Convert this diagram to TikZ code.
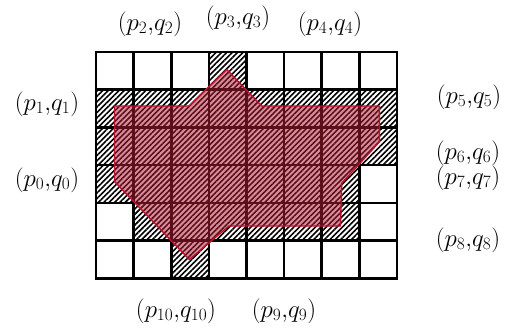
\documentclass[tikz,border=0pt]{standalone}
\usetikzlibrary{patterns.meta}
\definecolor{polyfill}{RGB}{180,30,55}
\definecolor{polyedge}{RGB}{190,15,45}
\DeclareMathSizes{25}{25}{19}{15}
\tikzset{
  hatchcell/.style={pattern={Lines[angle=45,distance=3.8pt,line width=1.6pt]},pattern color=black},
  gridline/.style={line width=2.6pt,black},
  poly/.style={fill=polyfill,fill opacity=0.5,draw=polyedge,line width=1.4pt,line join=round},
  lab/.style={inner sep=0pt,font=\fontsize{25}{29}\selectfont}
}
\begin{document}
\begin{tikzpicture}[x=1pt,y=-1pt]
\useasboundingbox (0,0) rectangle (506,333);
\fill[white] (0,0) rectangle (506,333);
\def\gx{96}\def\gy{52}\def\cw{37.6}\def\ch{37.7}
% hatched cells: (col,row)
\foreach \c/\r in {3/0,
  0/1,1/1,2/1,3/1,4/1,5/1,6/1,7/1,
  0/2,1/2,2/2,3/2,4/2,5/2,6/2,7/2,
  0/3,1/3,2/3,3/3,4/3,5/3,6/3,
  1/4,2/4,3/4,4/4,5/4,6/4,
  2/5}{
  \path[hatchcell] ({\gx+\c*\cw},{\gy+\r*\ch}) rectangle ++(\cw,\ch);
}
% grid
\foreach \i in {0,...,8}{
  \draw[gridline] ({\gx+\i*\cw},\gy) -- ({\gx+\i*\cw},{\gy+6*\ch});
}
\foreach \j in {0,...,6}{
  \draw[gridline] ({\gx-1.3},{\gy+\j*\ch}) -- ({\gx+8*\cw+1.3},{\gy+\j*\ch});
}
% polygon
\draw[poly] (226.7,69.5) -- (261.7,106) -- (379.3,106) -- (379.3,142) -- (341.7,183.3)
  -- (340.5,226) -- (229,226) -- (189.3,259.5) -- (114.5,181.5) -- (114.5,106)
  -- (189,106) -- cycle;
% labels
\node[lab] (l0) at (47,180) {$(p_0{,}q_0)$};
\node[lab] (l1) at (47,104) {$(p_1{,}q_1)$};
\node[lab] (l2) at (150,24) {$(p_2{,}q_2)$};
\node[lab] (l3) at (238,18) {$(p_3{,}q_3)$};
\node[lab] (l4) at (330,24) {$(p_4{,}q_4)$};
\node[lab] (l5) at (469,97) {$(p_5{,}q_5)$};
\node[lab] (l6) at (468,153) {$(p_6{,}q_6)$};
\node[lab] (l7) at (468,178) {$(p_7{,}q_7)$};
\node[lab] (l8) at (468,240) {$(p_8{,}q_8)$};
\node[lab] (l9) at (284,311) {$(p_9{,}q_9)$};
\node[lab] (l10) at (176,311) {$(p_{10}{,}q_{10})$};
\end{tikzpicture}
\end{document}
